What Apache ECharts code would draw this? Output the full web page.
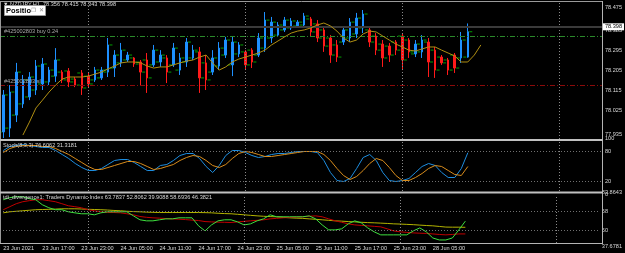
<!DOCTYPE html>
<html>
<head>
<meta charset="utf-8">
<script src="https://cdn.jsdelivr.net/npm/echarts@6/dist/echarts.min.js"></script>
<style>
  html, body { margin: 0; padding: 0; background: #000; }
  #chart { width: 625px; height: 253px; }
</style>
</head>
<body>
<div id="chart"></div>
<script>
// NZDJPY H1, 23 Jun 2021 11:00 .. 28 Jun 2021 10:00 (72 bars), Heiken Ashi style bars
const tickBars = [0, 6, 12, 18, 24, 30, 36, 42, 48, 54, 60, 66]
const tickLabels = ['23 Jun 2021', '23 Jun 17:00', '23 Jun 23:00', '24 Jun 05:00', '24 Jun 11:00', '24 Jun 17:00',
  '24 Jun 23:00', '25 Jun 05:00', '25 Jun 11:00', '25 Jun 17:00', '25 Jun 23:00', '28 Jun 05:00']
const daySeparators = [13, 37, 61, 85]
const priceTicks = [78.475, 78.385, 78.295, 78.205, 78.115, 78.025, 77.935]
const stochTicks = [100, 80, 20, 0]
const tdiTicks = [83.8643, 68, 50, 37.6781]

const opens = [77.931, 77.948, 78.006, 78.056, 78.087, 78.118, 78.145, 78.154, 78.180, 78.198,
  78.203, 78.167, 78.194, 78.180, 78.163, 78.172, 78.198, 78.216, 78.239, 78.252,
  78.261, 78.243, 78.252, 78.230, 78.243, 78.261, 78.230, 78.207, 78.243, 78.261,
  78.288, 78.239, 78.198, 78.225, 78.274, 78.230, 78.279, 78.288, 78.296, 78.274,
  78.305, 78.350, 78.363, 78.386, 78.395, 78.404, 78.408, 78.435, 78.413, 78.386,
  78.350, 78.319, 78.332, 78.350, 78.368, 78.395, 78.386, 78.359, 78.323, 78.314,
  78.332, 78.359, 78.341, 78.279, 78.288, 78.332, 78.296, 78.265, 78.252, 78.274,
  78.261, 78.265]
const closes = [78.096, 78.109, 78.198, 78.163, 78.176, 78.225, 78.234, 78.207, 78.252, 78.163,
  78.154, 78.140, 78.127, 78.145, 78.207, 78.207, 78.319, 78.274, 78.296, 78.274,
  78.234, 78.198, 78.172, 78.296, 78.274, 78.198, 78.305, 78.261, 78.332, 78.296,
  78.172, 78.163, 78.261, 78.305, 78.341, 78.332, 78.319, 78.230, 78.243, 78.350,
  78.430, 78.421, 78.408, 78.430, 78.426, 78.421, 78.448, 78.377, 78.350, 78.314,
  78.274, 78.265, 78.386, 78.421, 78.439, 78.457, 78.332, 78.296, 78.261, 78.274,
  78.296, 78.252, 78.288, 78.323, 78.341, 78.243, 78.207, 78.239, 78.207, 78.216,
  78.341, 78.378]
const lows = [77.904, 77.908, 77.975, 78.038, 78.073, 78.096, 78.118, 78.140, 78.154, 78.149,
  78.131, 78.131, 78.096, 78.131, 78.154, 78.163, 78.176, 78.176, 78.221, 78.243,
  78.221, 78.140, 78.105, 78.221, 78.221, 78.149, 78.221, 78.185, 78.221, 78.252,
  78.105, 78.118, 78.185, 78.207, 78.261, 78.180, 78.265, 78.207, 78.216, 78.265,
  78.288, 78.328, 78.355, 78.377, 78.386, 78.399, 78.399, 78.355, 78.332, 78.288,
  78.239, 78.243, 78.319, 78.332, 78.350, 78.372, 78.310, 78.274, 78.221, 78.243,
  78.274, 78.207, 78.261, 78.265, 78.261, 78.176, 78.172, 78.230, 78.185, 78.194,
  78.239, 78.262]
const highs = [78.118, 78.140, 78.239, 78.185, 78.198, 78.252, 78.261, 78.221, 78.305, 78.207,
  78.216, 78.176, 78.207, 78.198, 78.221, 78.221, 78.350, 78.296, 78.328, 78.288,
  78.265, 78.252, 78.283, 78.319, 78.296, 78.274, 78.328, 78.283, 78.350, 78.319,
  78.310, 78.274, 78.296, 78.332, 78.355, 78.355, 78.332, 78.296, 78.305, 78.372,
  78.466, 78.444, 78.421, 78.444, 78.439, 78.430, 78.462, 78.444, 78.430, 78.399,
  78.363, 78.341, 78.399, 78.439, 78.462, 78.475, 78.395, 78.372, 78.341, 78.328,
  78.341, 78.372, 78.350, 78.341, 78.363, 78.350, 78.310, 78.274, 78.261, 78.283,
  78.377, 78.415]

// moving average, drawn 2 bars shifted to the right
const maValues = [null, null, null, 77.917, 77.975, 78.038, 78.073, 78.109, 78.140, 78.167,
  78.176, 78.176, 78.176, 78.180, 78.189, 78.198, 78.212, 78.225, 78.239, 78.243,
  78.243, 78.239, 78.225, 78.216, 78.221, 78.221, 78.230, 78.239, 78.247, 78.252,
  78.265, 78.274, 78.239, 78.207, 78.221, 78.243, 78.256, 78.265, 78.274, 78.283,
  78.296, 78.319, 78.337, 78.355, 78.372, 78.381, 78.386, 78.395, 78.408, 78.417,
  78.404, 78.381, 78.350, 78.332, 78.341, 78.368, 78.381, 78.377, 78.359, 78.341,
  78.323, 78.310, 78.296, 78.292, 78.301, 78.310, 78.310, 78.296, 78.283, 78.270,
  78.243, 78.243, 78.274, 78.319]

const bidPrice = 78.398
const buyPrice = 78.3635
const slPrice = 78.137

const stochMain = [81, 89, 91, 93, 91, 89, 87, 87, 81, 73,
  65, 55, 47, 41, 41, 45, 53, 61, 63, 63,
  57, 49, 41, 41, 51, 53, 61, 71, 75, 75,
  65, 49, 37, 51, 71, 81, 81, 77, 71, 67,
  69, 73, 75, 75, 77, 79, 79, 79, 77, 61,
  37, 21, 19, 25, 45, 67, 73, 61, 37, 21,
  19, 21, 25, 37, 49, 55, 51, 37, 27, 27,
  45, 76.6]
const stochSignal = [77, 85, 89, 91, 91, 91, 89, 89, 85, 79,
  73, 65, 57, 49, 43, 43, 47, 51, 55, 59,
  59, 55, 49, 43, 45, 49, 53, 61, 67, 71,
  69, 61, 51, 47, 53, 65, 75, 79, 77, 73,
  69, 69, 71, 73, 75, 77, 79, 79, 79, 73,
  61, 45, 31, 23, 29, 41, 55, 65, 61, 47,
  31, 21, 21, 27, 35, 45, 51, 49, 41, 33,
  31, 49]

const tdiPrice = [79.3, 81.3, 82.2, 82.2, 80.3, 79.3, 74.5, 71.6, 69.7, 69.7,
  67.7, 66.7, 65.8, 65.8, 64.8, 66.7, 67.7, 67.7, 67.7, 67.7,
  63.8, 60.0, 59.0, 59.0, 60.0, 60.9, 60.9, 61.9, 61.9, 61.9,
  54.2, 49.3, 55.1, 59.0, 60.0, 60.0, 58.0, 55.1, 56.1, 59.0,
  60.9, 64.8, 62.9, 62.9, 62.9, 62.9, 62.9, 63.8, 60.9, 55.1,
  50.3, 50.3, 51.3, 56.1, 59.0, 57.1, 52.2, 48.4, 45.5, 45.5,
  45.5, 45.5, 45.5, 49.3, 52.2, 48.4, 42.5, 40.6, 40.6, 42.5,
  50.3, 58.7]
const tdiSignal = [69.7, 72.6, 75.5, 77.4, 78.4, 79.3, 79.3, 78.4, 77.4, 75.5,
  73.5, 72.6, 71.6, 69.7, 68.7, 67.7, 67.0, 67.0, 66.7, 65.8,
  64.8, 63.2, 62.4, 61.9, 61.6, 61.2, 60.9, 60.6, 60.2, 59.7,
  59.3, 58.3, 58.0, 57.7, 57.6, 57.4, 58.0, 58.5, 59.0, 59.5,
  60.0, 60.9, 61.4, 61.9, 62.2, 62.6, 62.9, 63.4, 63.8, 62.9,
  60.9, 59.0, 57.6, 56.1, 55.1, 54.6, 54.2, 53.7, 53.2, 51.3,
  49.3, 48.4, 47.9, 47.4, 47.1, 46.9, 46.4, 45.9, 45.5, 45.9,
  46.4, 46.4]
const tdiBase = [66.7, 67.7, 68.2, 68.7, 69.2, 69.7, 69.9, 70.1, 70.3, 70.6,
  70.6, 70.6, 70.4, 70.1, 69.9, 69.7, 69.4, 69.0, 68.7, 68.2,
  67.9, 67.7, 67.4, 67.2, 67.0, 67.0, 67.0, 67.0, 67.0, 67.0,
  67.0, 66.9, 66.7, 66.3, 66.0, 65.8, 65.3, 64.8, 64.3, 63.8,
  63.4, 63.1, 62.9, 62.4, 61.9, 61.6, 61.4, 60.9, 60.5, 60.0,
  59.5, 59.0, 58.7, 58.3, 58.0, 57.6, 57.3, 57.1, 56.8, 56.5,
  56.1, 55.9, 55.6, 55.3, 54.9, 54.5, 54.2, 53.6, 53.0, 52.9,
  52.9, 52.8]

const slotCount = 92 // bars + empty chart shift on the right
const slots = Array.from({ length: slotCount }, (_, i) => String(i))
const FONT = 'Liberation Sans'
const TXT = '#d8d8d8'
const SEP = '#c0c0c0'

const chart = echarts.init(document.getElementById('chart'))

function dayLines() {
  return daySeparators.map(i => ({
    xAxis: i,
    lineStyle: { color: '#8a8a8a', type: [1, 2], width: 1 },
    label: { show: false },
  }))
}
function levelLines(levels) {
  return levels.map(v => ({
    yAxis: v,
    lineStyle: { color: '#707070', type: [1, 2], width: 1 },
    label: { show: false },
  }))
}

function xAxisFor(gridIndex, showLabels) {
  return {
    type: 'category',
    gridIndex,
    data: slots,
    boundaryGap: true,
    axisLine: { show: false },
    axisTick: { show: false },
    splitLine: { show: false },
    axisLabel: {
      show: showLabels,
      interval: (idx) => tickBars.includes(idx),
      formatter: (val, idx) => {
        const k = tickBars.indexOf(idx)
        return k >= 0 ? tickLabels[k] : ''
      },
      align: 'left',
      margin: 2,
      color: TXT,
      fontSize: 5.6,
      fontFamily: FONT,
    },
  }
}

function yAxisFor(gridIndex, min, max, ticks, fmt) {
  return {
    type: 'value',
    gridIndex,
    min,
    max,
    position: 'right',
    axisLine: { show: false },
    axisTick: { show: false },
    splitLine: { show: false },
    axisLabel: {
      customValues: ticks,
      formatter: fmt,
      margin: 3,
      color: TXT,
      fontSize: 5.6,
      fontFamily: FONT,
      verticalAlignMinLabel: 'bottom',
      verticalAlignMaxLabel: 'top',
    },
  }
}

const candleData = opens.map((o, i) => [o, closes[i], lows[i], highs[i]])

const option = {
  backgroundColor: '#000000',
  animation: false,
  grid: [
    { left: -2, right: 23, top: 2, height: 137 },
    { left: -2, right: 23, top: 141, height: 50 },
    { left: -2, right: 23, top: 195, height: 48 },
  ],
  xAxis: [xAxisFor(0, false), xAxisFor(1, false), xAxisFor(2, true)],
  yAxis: [
    yAxisFor(0, 77.8994, 78.5107, priceTicks, v => v.toFixed(3)),
    yAxisFor(1, 0, 100, stochTicks, v => String(v)),
    yAxisFor(2, 37.6781, 83.8643, tdiTicks, v => (Number.isInteger(v) ? String(v) : v.toFixed(4))),
  ],
  series: [
    {
      name: 'HA',
      type: 'candlestick',
      xAxisIndex: 0,
      yAxisIndex: 0,
      data: candleData,
      barWidth: 2,
      itemStyle: {
        color: '#1e90ff',
        color0: '#ff1a1a',
        borderColor: '#1e90ff',
        borderColor0: '#ff1a1a',
        borderWidth: 1,
      },
      markLine: {
        silent: true,
        symbol: ['none', 'none'],
        animation: false,
        data: [
          ...dayLines(),
          {
            yAxis: bidPrice,
            lineStyle: { color: '#3a3a3a', type: 'solid', width: 2 },
            label: {
              show: true, position: 'end', distance: 1,
              formatter: bidPrice.toFixed(3),
              backgroundColor: '#ffffff', color: '#000000',
              padding: [1, 2, 0, 2], fontSize: 5.6, fontFamily: FONT,
            },
          },
          {
            yAxis: buyPrice,
            lineStyle: { color: '#2a8a2a', type: [5, 2, 1, 2], width: 1 },
            label: {
              show: true, position: 'insideStartTop', distance: [4, 1],
              formatter: '#425002803 buy 0.24',
              color: '#a8a8a8', fontSize: 5.6, fontFamily: FONT,
            },
          },
          {
            yAxis: slPrice,
            lineStyle: { color: '#8b0a0a', type: [5, 2, 1, 2], width: 1 },
            label: {
              show: true, position: 'insideStartTop', distance: [4, 1],
              formatter: '#425002803 sl',
              color: '#a8a8a8', fontSize: 5.6, fontFamily: FONT,
            },
          },
        ],
      },
      z: 3,
    },
    {
      name: 'open tick',
      type: 'scatter',
      xAxisIndex: 0,
      yAxisIndex: 0,
      data: opens.map((v, i) => [i, v]),
      symbol: 'rect',
      symbolSize: [3, 1],
      symbolOffset: [-3, 0],
      itemStyle: { color: '#00c800' },
      silent: true,
      z: 4,
    },
    {
      name: 'close tick',
      type: 'scatter',
      xAxisIndex: 0,
      yAxisIndex: 0,
      data: closes.map((v, i) => [i, v]),
      symbol: 'rect',
      symbolSize: [3, 1],
      symbolOffset: [3, 0],
      itemStyle: { color: '#00c800' },
      silent: true,
      z: 4,
    },
    {
      name: 'MA',
      type: 'line',
      xAxisIndex: 0,
      yAxisIndex: 0,
      data: maValues,
      showSymbol: false,
      lineStyle: { color: '#b08f12', width: 1 },
      z: 5,
    },
    {
      name: 'Stoch main',
      type: 'line',
      xAxisIndex: 1,
      yAxisIndex: 1,
      data: stochMain,
      showSymbol: false,
      lineStyle: { color: '#1e8ee0', width: 1 },
      markLine: {
        silent: true,
        symbol: ['none', 'none'],
        animation: false,
        data: [...dayLines(), ...levelLines([80, 20])],
      },
      z: 3,
    },
    {
      name: 'Stoch signal',
      type: 'line',
      xAxisIndex: 1,
      yAxisIndex: 1,
      data: stochSignal,
      showSymbol: false,
      lineStyle: { color: '#d88c1c', width: 1 },
      z: 3,
    },
    {
      name: 'TDI base',
      type: 'line',
      xAxisIndex: 2,
      yAxisIndex: 2,
      data: tdiBase,
      showSymbol: false,
      lineStyle: { color: '#b4b400', width: 1 },
      markLine: {
        silent: true,
        symbol: ['none', 'none'],
        animation: false,
        data: [...dayLines(), ...levelLines([68, 50])],
      },
      z: 3,
    },
    {
      name: 'TDI signal',
      type: 'line',
      xAxisIndex: 2,
      yAxisIndex: 2,
      data: tdiSignal,
      showSymbol: false,
      lineStyle: { color: '#c00000', width: 1 },
      z: 3,
    },
    {
      name: 'TDI price',
      type: 'line',
      xAxisIndex: 2,
      yAxisIndex: 2,
      data: tdiPrice,
      showSymbol: false,
      lineStyle: { color: '#3ee03e', width: 1 },
      z: 4,
    },
  ],
  graphic: [
    // frame and pane separators
    { type: 'line', shape: { x1: 0, y1: 1.5, x2: 603, y2: 1.5 }, style: { stroke: '#9a9a9a', lineWidth: 1 }, z: 10 },
    { type: 'line', shape: { x1: 0.5, y1: 1, x2: 0.5, y2: 243 }, style: { stroke: '#9a9a9a', lineWidth: 1 }, z: 10 },
    { type: 'line', shape: { x1: 602.5, y1: 1, x2: 602.5, y2: 243.5 }, style: { stroke: '#b4b4b4', lineWidth: 1 }, z: 10 },
    { type: 'line', shape: { x1: 0, y1: 140, x2: 603, y2: 140 }, style: { stroke: SEP, lineWidth: 2 }, z: 10 },
    { type: 'line', shape: { x1: 0, y1: 192.5, x2: 603, y2: 192.5 }, style: { stroke: SEP, lineWidth: 2 }, z: 10 },
    { type: 'line', shape: { x1: 0, y1: 243.5, x2: 603, y2: 243.5 }, style: { stroke: '#b4b4b4', lineWidth: 1 }, z: 10 },
    // chart header
    {
      type: 'text', left: 3, top: 1, z: 10,
      style: { text: '\u25BC NZDJPY,H1  78.356 78.415 78.343 78.398', fill: TXT, fontSize: 5.6, fontFamily: FONT },
    },
    // "Positions" tool window (collapsed)
    { type: 'rect', shape: { x: 4.5, y: 5.5, width: 41, height: 10 }, style: { fill: '#ffffff', stroke: '#9a9a9a', lineWidth: 1 }, z: 11 },
    {
      type: 'text', left: 6, top: 6.5, z: 12,
      style: { text: 'Positio', fill: '#000000', fontSize: 7.5, fontWeight: 'bold', fontFamily: FONT },
    },
    {
      type: 'text', left: 31, top: 7.5, z: 12,
      style: { text: '\u2750', fill: '#8a8a8a', fontSize: 5.5, fontFamily: 'DejaVu Sans' },
    },
    {
      type: 'text', left: 39, top: 7, z: 12,
      style: { text: '\u2715', fill: '#8a8a8a', fontSize: 6, fontFamily: 'DejaVu Sans' },
    },
    // indicator captions
    {
      type: 'text', left: 3, top: 142, z: 10,
      style: { text: 'Stoch(8,3,3) 76.6062 31.3181', fill: TXT, fontSize: 5.6, fontFamily: FONT },
    },
    {
      type: 'text', left: 3, top: 194, z: 10,
      style: { text: 'tdi_divergence1: Traders Dynamic Index 63.7837 52.8062 39.9088 58.6936 46.3821', fill: TXT, fontSize: 5.6, fontFamily: FONT },
    },
  ],
}

chart.setOption(option)
</script>
</body>
</html>
